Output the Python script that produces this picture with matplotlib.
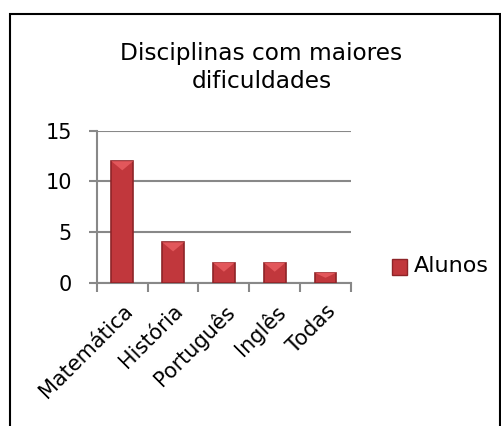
import numpy as np
import matplotlib
matplotlib.use("Agg")
import matplotlib.pyplot as plt
from matplotlib.patches import Polygon, Rectangle

categorias = ["Matemática", "História", "Português", "Inglês", "Todas"]
alunos = [12, 4, 2, 2, 1]
serie = "Alunos"
titulo = "Disciplinas com maiores\ndificuldades"
yticks = [0, 5, 10, 15]

plt.rcParams["font.family"] = ["DejaVu Sans"]

fig = plt.figure(figsize=(5.02, 4.26), dpi=100)
ax = fig.add_axes([0.193, 0.336, 0.506, 0.357])

x = np.arange(len(categorias))
w = 0.43
cor = "#c1373c"
borda = "#8e2428"
bars = ax.bar(x, alunos, w, color=cor, edgecolor=borda, linewidth=1.2, zorder=3, label=serie)

# bisel claro no topo de cada barra
for b in bars:
    x0 = b.get_x()
    x1 = x0 + b.get_width()
    h = b.get_height()
    d = min(0.9, h * 0.5)
    tri = Polygon([(x0, h), (x1, h), ((x0 + x1) / 2, h - d)], closed=True,
                  facecolor="#e2575b", edgecolor="none", zorder=4)
    ax.add_patch(tri)

ax.set_xlim(-0.5, len(categorias) - 0.5)
ax.set_ylim(0, 15)
ax.set_yticks(yticks)
ax.yaxis.grid(True, color="#888888", linewidth=1.5, zorder=0)
ax.set_axisbelow(True)

for s in ["top", "right"]:
    ax.spines[s].set_visible(False)
for s in ["left", "bottom"]:
    ax.spines[s].set_color("#888888")
    ax.spines[s].set_linewidth(1.5)

ax.set_xticks(x)
ax.set_xticklabels(categorias, rotation=45, ha="right", rotation_mode="anchor", fontsize=15)
ax.tick_params(axis="x", length=0, pad=13)
ax.set_xticks(np.arange(len(categorias) + 1) - 0.5, minor=True)
ax.tick_params(axis="x", which="minor", length=6.5, width=1.5, color="#888888", direction="out")
ax.tick_params(axis="y", length=6, width=1.5, color="#888888", labelsize=15, pad=12)

fig.text(0.521, 0.8415, titulo, ha="center", va="center", fontsize=16.75, linespacing=1.32)

# legenda
fig.patches.append(Rectangle((392 / 502, 1 - 275 / 426), 15 / 502, 16 / 426,
                             transform=fig.transFigure, facecolor=cor,
                             edgecolor=borda, linewidth=1))
fig.text(414 / 502, 1 - 266 / 426, serie, ha="left", va="center", fontsize=16)

# moldura
fig.patches.append(Rectangle((10 / 502, -0.1), 490 / 502, 1.1 - 14 / 426,
                             transform=fig.transFigure, facecolor="none",
                             edgecolor="black", linewidth=1.5, clip_on=False))

fig.savefig("out.png", dpi=100)
